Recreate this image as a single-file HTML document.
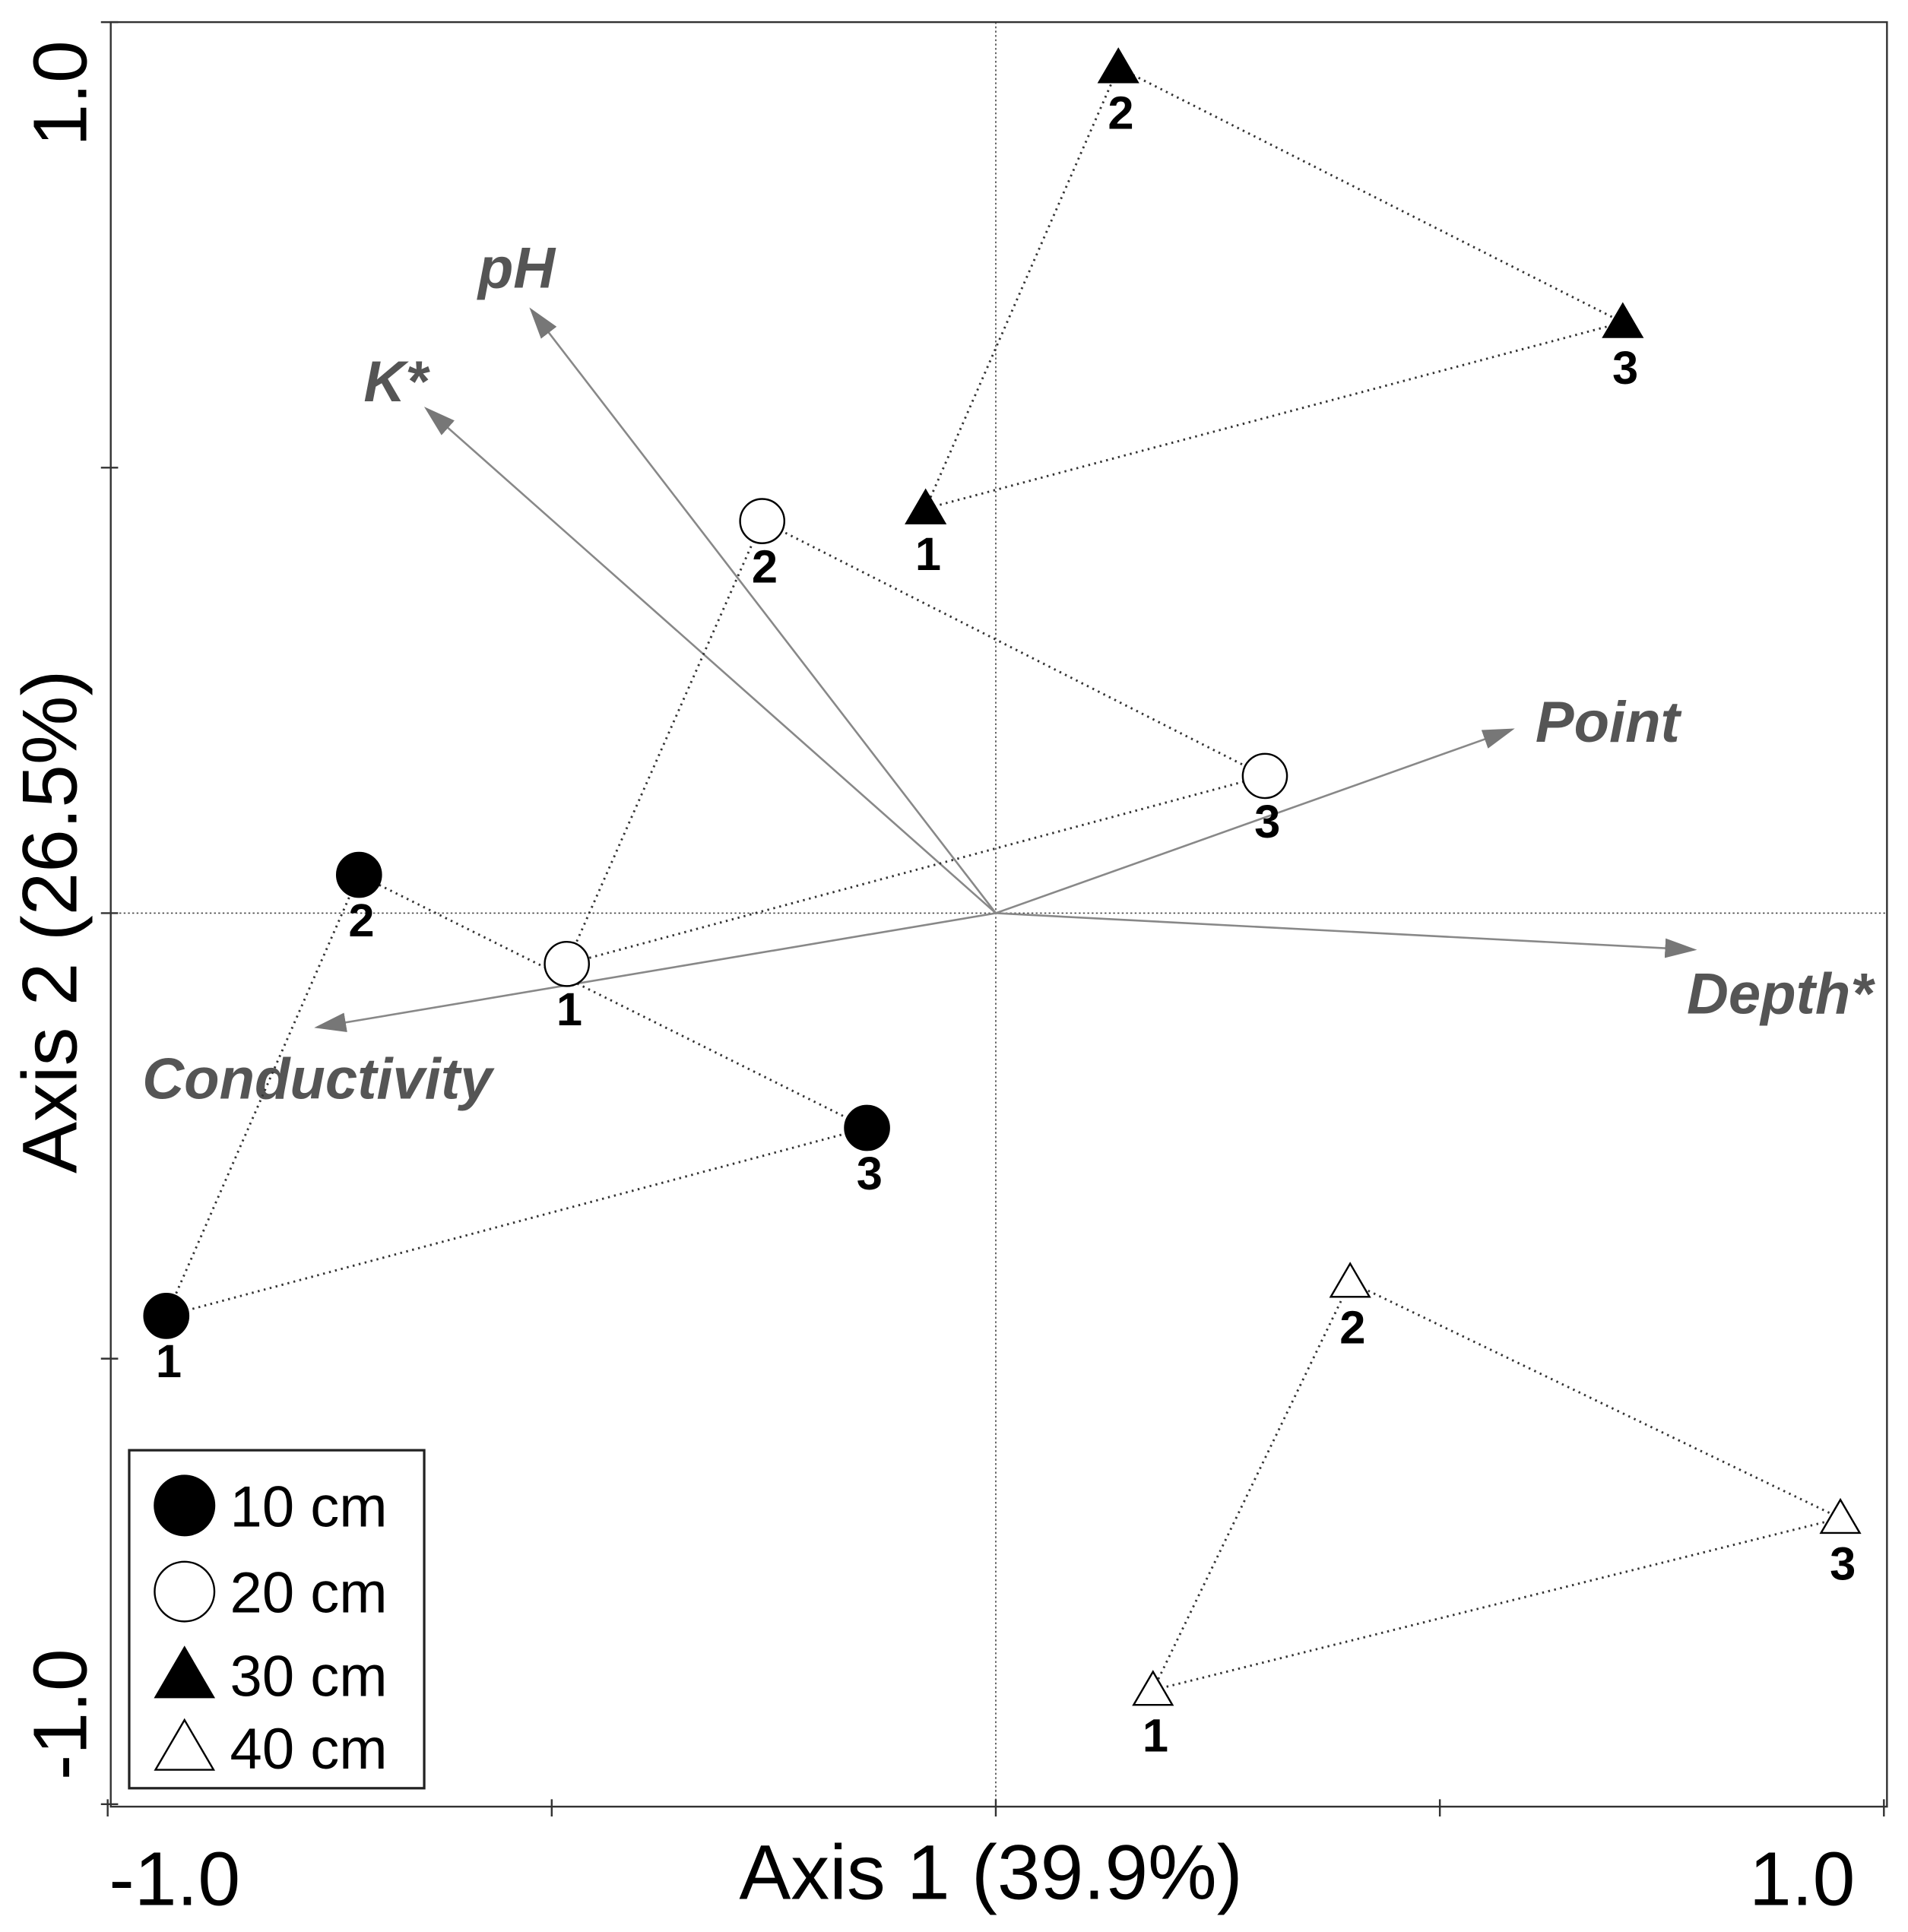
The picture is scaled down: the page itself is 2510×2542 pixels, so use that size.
<!DOCTYPE html>
<html><head><meta charset="utf-8"><style>html,body{margin:0;padding:0;background:#fff}svg{display:block}</style></head>
<body>
<svg id="chart" xmlns="http://www.w3.org/2000/svg" width="2510" height="2542" viewBox="0 0 1552 1572" font-family="Liberation Sans, Arial, sans-serif">
<defs><marker id="ah" viewBox="0 0 10 10" refX="9" refY="5" markerWidth="26" markerHeight="16" markerUnits="userSpaceOnUse" orient="auto" preserveAspectRatio="none"><path d="M0,0 L10,5 L0,10 z" fill="#777"/></marker></defs>
<g id="plot"></g>
</svg>
<script>
const groups = ['10 cm','20 cm','30 cm','40 cm'];
const groupX = [[-0.934,-0.717,-0.145],[-0.483,-0.263,0.303],[-0.079,0.138,0.706],[0.177,0.399,0.951]];
const groupY = [[-0.452,0.043,-0.241],[-0.057,0.440,0.154],[0.454,0.949,0.663],[-0.872,-0.414,-0.679]];
const vecNames = ['pH','K*','Point','Depth*','Conductivity'];
const vecX = [-0.523,-0.641,0.581,0.786,-0.764];
const vecY = [0.677,0.566,0.206,-0.041,-0.128];
const tickVals = [-1,-0.5,0,0.5,1];

const L=90,R=1535,T=18,B=1470;
const sx=v=>810+v*722.5, sy=v=>743-v*725;
const NS='http://www.w3.org/2000/svg';
const g=document.getElementById('plot');
function mk(tag,a,parent){const e=document.createElementNS(NS,tag);for(const k in a)e.setAttribute(k,a[k]);(parent||g).appendChild(e);return e;}
function txt(s,a){const e=mk('text',a);e.textContent=s;return e;}

let e=mk('line',{x1:sx(0),x2:sx(0),y1:T,y2:B,stroke:'#444','stroke-width':1,'stroke-dasharray':'1.5,2'});


e=mk('line',{x1:L,x2:R,y1:sy(0),y2:sy(0),stroke:'#444','stroke-width':1,'stroke-dasharray':'1.5,2'});



e=mk('rect',{x:L,y:T,width:R-L,height:B-T,fill:'none',stroke:'#333','stroke-width':1.5});


tickVals.forEach(v=>{
  e=mk('line',{x1:sx(v),x2:sx(v),y1:B-6,y2:B+8,stroke:'#333','stroke-width':1.5});
  
  
  e=mk('line',{x1:L-8,x2:L+6,y1:sy(v),y2:sy(v),stroke:'#333','stroke-width':1.5});
  
  
});
e=txt('-1.0',{x:142,y:1550,'font-size':62,'text-anchor':'middle'});


e=txt('1.0',{x:1466,y:1550,'font-size':62,'text-anchor':'middle'});


e=txt('1.0',{x:0,y:0,'font-size':62,'text-anchor':'middle',transform:'translate(70,76) rotate(-90)'});


e=txt('-1.0',{x:0,y:0,'font-size':62,'text-anchor':'middle',transform:'translate(70,1395) rotate(-90)'});


e=txt('Axis 1 (39.9%)',{x:806,y:1545,'font-size':63,'text-anchor':'middle'});


e=txt('Axis 2 (26.5%)',{x:0,y:0,'font-size':63,'text-anchor':'middle',transform:'translate(62,750) rotate(-90)'});



const labOff=[[-12,-18],[-25,-6],[78,10],[70,52],[0,58]];
vecNames.forEach((n,i)=>{
  e=mk('line',{x1:sx(0),y1:sy(0),x2:sx(vecX[i]),y2:sy(vecY[i]),stroke:'#888','stroke-width':1.6,'marker-end':'url(#ah)'});
  
  
  e=txt(n,{x:sx(vecX[i])+labOff[i][0],y:sy(vecY[i])+labOff[i][1],'font-size':47,'font-weight':'bold','font-style':'italic',fill:'#555','text-anchor':'middle'});
  
  
});

function marker(k,x,y,s,parent){
  if(k<2) return mk('circle',{cx:x,cy:y,r:18*s,fill:k==0?'#000':'#fff',stroke:'#000','stroke-width':1.5},parent);
  const h=15*s;
  return mk('polygon',{points:`${x},${y-h} ${x+h*1.05},${y+h*0.8} ${x-h*1.05},${y+h*0.8}`,fill:k==2?'#000':'#fff',stroke:'#000','stroke-width':1.5},parent);
}
groups.forEach((gn,k)=>{
  const px=groupX[k].map(sx), py=groupY[k].map(sy);
  e=mk('polygon',{points:px.map((x,i)=>x+','+py[i]).join(' '),fill:'none',stroke:'#333','stroke-width':1.8,'stroke-dasharray':'1.5,3.5'});
  
  
  px.forEach((x,i)=>{
    e=marker(k,x,py[i],1);
    
    
    e=txt(String(i+1),{x:x+2,y:py[i]+50,'font-size':38,'font-weight':'bold','text-anchor':'middle'});
    
    
  });
});

e=mk('rect',{x:105,y:1180,width:240,height:275,fill:'#fff',stroke:'#222','stroke-width':2});


const ly=[1225,1295,1363,1422];
groups.forEach((gn,k)=>{
  e=marker(k,150,ly[k],k<2?1.35:1.5);
  
  
  e=txt(gn,{x:187,y:ly[k]+17,'font-size':47});
  
  
});
</script>
</body></html>
